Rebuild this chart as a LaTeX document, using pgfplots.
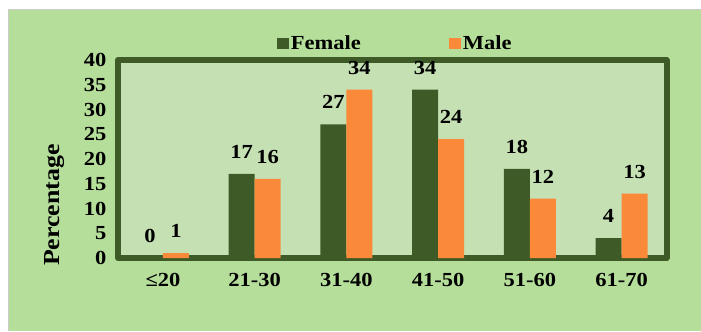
\documentclass[border=0pt]{standalone}
\usepackage{pgfplots}
\pgfplotsset{compat=1.18}
\usepackage{fontspec}
\setmainfont[FakeStretch=1.13]{Liberation Serif}
\definecolor{outerbg}{HTML}{B5DE9A}
\definecolor{innerbg}{HTML}{C5E0B3}
\definecolor{dgreen}{HTML}{3E5B27}
\definecolor{orng}{HTML}{FA8A3A}
\begin{document}
\begin{tikzpicture}[x=1bp,y=1bp]
\path[use as bounding box] (0,0) rectangle (701,331);
\fill[outerbg] (8,0) rectangle (701,321);
\draw[gray!40, line width=1bp] (8,0) -- (8,321) -- (701,321);
\begin{axis}[
  at={(118bp,73bp)}, anchor=south west,
  scale only axis, width=548.5bp, height=198bp,
  xmin=-0.49, xmax=5.49, ymin=0, ymax=40,
  axis background/.style={fill=innerbg},
  axis line style={draw=dgreen, line width=6bp, line join=round},
  ybar, bar width=26bp,
  xtick={0,1,2,3,4,5},
  xticklabels={≤20,21-30,31-40,41-50,51-60,61-70},
  ytick={0,5,...,40},
  major tick length=0pt,
  /pgf/number format/assume math mode=true,
  tick label style={font=\fontsize{20}{22}\selectfont\bfseries},
  yticklabel style={xshift=-8bp},
  xticklabel style={yshift=-12bp},
  nodes near coords,
  every node near coord/.append style={font=\fontsize{20}{22}\selectfont\bfseries, anchor=center, yshift=22bp},
  legend columns=2,
  legend style={draw=none, fill=none, at={(0.5,1)}, xshift=3bp, yshift=17bp, anchor=center,
    font=\fontsize{20}{22}\selectfont\bfseries,
    /tikz/every even column/.append style={column sep=86bp}},
  legend image code/.code={\fill[#1] (0bp,-5.5bp) rectangle (12bp,5.5bp);},
  clip=false,
]
\addplot[fill=dgreen, draw=none, bar shift=-13bp] coordinates {(0,0) (1,17) (2,27) (3,34) (4,18) (5,4)};
\addplot[fill=orng, draw=none, bar shift=13bp] coordinates {(0,1) (1,16) (2,34) (3,24) (4,12) (5,13)};
\legend{Female, Male}
\end{axis}
\node[rotate=90, font=\fontsize{23}{25}\selectfont\bfseries] at (55,126) {Percentage};
\end{tikzpicture}
\end{document}
